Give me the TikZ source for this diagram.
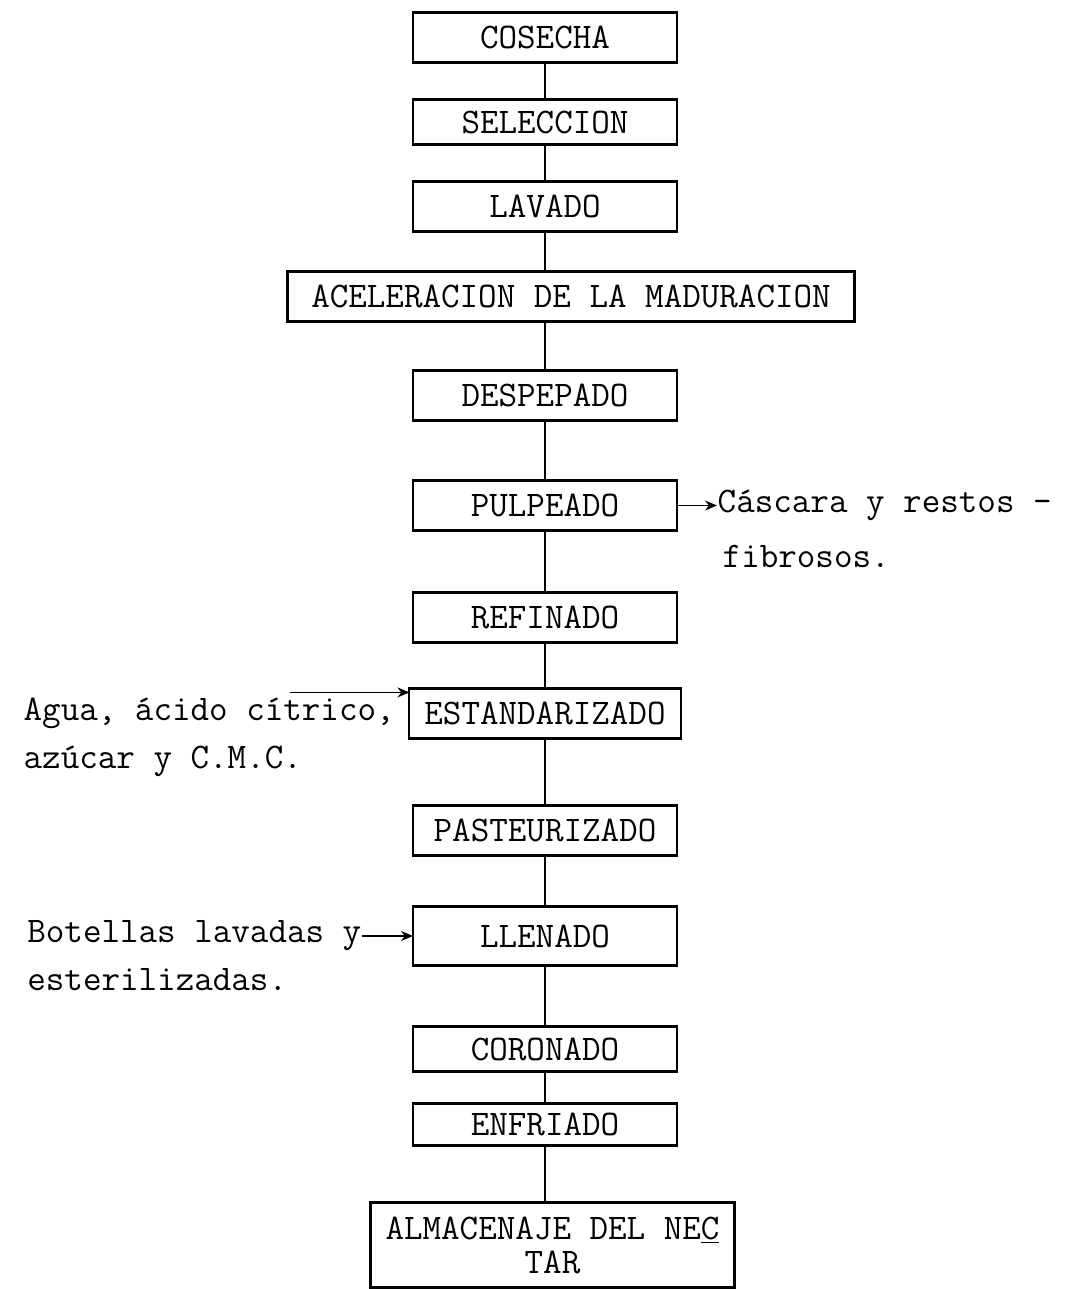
\documentclass[tikz,border=0pt]{standalone}
\usepackage{fontspec}
\usepackage{tikz}
\usetikzlibrary{arrows.meta,positioning}

\begin{document}
\begin{tikzpicture}[
  >={Stealth[length=2.4mm,width=2mm]}, thick,
  every node/.style={font=\ttfamily\fontsize{20.5}{27.3}\selectfont},
  etapa/.style={draw, line width=1.2pt, minimum width=5.28cm, minimum height=1cm,
                inner xsep=0.3cm, inner ysep=0pt, outer sep=0pt},
  nota/.style={inner sep=0pt}
]
  \useasboundingbox (0,0) rectangle (21.4,-25.78);

  % Main column
  \node (cos) [etapa] at (10.9,-0.75) {COSECHA};
  \node (sel) [etapa, below=0.74cm of cos, minimum height=0.9cm] {SELECCION};
  \node (lav) [etapa, below=0.74cm of sel] {LAVADO};
  \node (acel) [etapa, below=0.8cm of lav, xshift=0.52cm, minimum width=11.34cm] {ACELERACION DE LA MADURACION};
  \node (desp) [etapa, below=0.98cm of acel, xshift=-0.52cm] {DESPEPADO};
  \node (pulp) [etapa, below=1.2cm of desp] {PULPEADO};
  \node (ref) [etapa, below=1.24cm of pulp] {REFINADO};
  \node (estand) [etapa, below=0.92cm of ref] {ESTANDARIZADO};
  \node (past) [etapa, below=1.34cm of estand] {PASTEURIZADO};
  \node (llen) [etapa, below=1.02cm of past, minimum height=1.18cm] {LLENADO};
  \node (cor) [etapa, below=1.22cm of llen, minimum height=0.9cm] {CORONADO};
  \node (enfr) [etapa, below=0.64cm of cor, minimum height=0.84cm] {ENFRIADO};
  \node (alm) [etapa, below=1.14cm of enfr, xshift=0.15cm, minimum height=1.7cm,
               align=center] {ALMACENAJE DEL NE\underline{C}\\[-8pt]TAR};

  % Side notes
  \node (casc) [nota, right=0.8cm of pulp] {Cáscara y restos -};
  \node (fib) [nota, below=1.1cm of casc.base west, anchor=base west, xshift=0.1cm] {fibrosos.};
  \node (agua) [nota, left=0.28cm of estand] {Agua, ácido cítrico,};
  \node (azuc) [nota, below=0.96cm of agua.base west, anchor=base west] {azúcar y C.M.C.};
  \node (bot) [nota, left=1.02cm of llen] {Botellas lavadas y};
  \node (est) [nota, below=0.96cm of bot.base west, anchor=base west] {esterilizadas.};

  % Connectors
  \draw (cos) -- (sel);
  \draw (sel) -- (lav);
  \draw (lav) -- (lav.south |- acel.north);
  \draw (desp.north |- acel.south) -- (desp);
  \draw (desp) -- (pulp);
  \draw (pulp) -- (ref);
  \draw (ref) -- (estand);
  \draw (estand) -- (past);
  \draw (past) -- (llen);
  \draw (llen) -- (cor);
  \draw (cor) -- (enfr);
  \draw (enfr) -- (enfr.south |- alm.north);

  % Inputs and outputs
  \draw[->] (pulp.east) -- (casc.west);
  \draw[->] ([xshift=-2.1cm,yshift=0.1cm]agua.north east) -- ([yshift=0.1cm]agua.north east -| estand.west);
  \draw[->] (bot) -- (llen);
\end{tikzpicture}
\end{document}
